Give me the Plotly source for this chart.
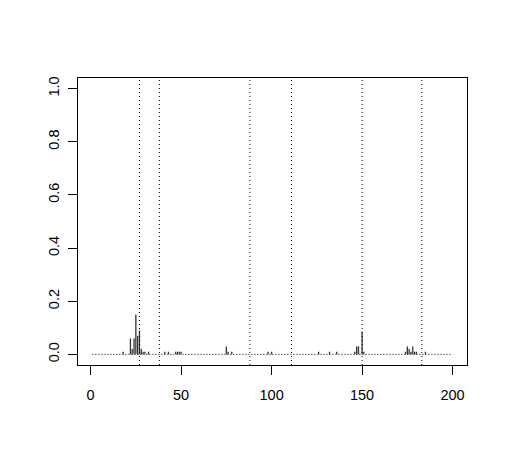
import plotly.graph_objects as go

# bar positions and heights (type "h" spikes)
spike_x = [18, 22, 23, 24, 25, 26, 27, 28, 29, 30, 32, 41, 43, 47, 48, 49, 50,
           75, 76, 78, 98, 100, 126, 132, 136, 146, 147, 148, 150, 151,
           174, 175, 176, 177, 178, 179, 180, 185]
spike_y = [0.01, 0.06, 0.02, 0.06, 0.15, 0.07, 0.09, 0.02, 0.01, 0.01, 0.01, 0.01, 0.01,
           0.01, 0.01, 0.01, 0.01,
           0.03, 0.01, 0.01, 0.01, 0.01, 0.01, 0.01, 0.01, 0.01, 0.03, 0.03, 0.085, 0.01,
           0.01, 0.03, 0.02, 0.01, 0.03, 0.01, 0.01, 0.01]

# dotted vertical markers
vlines = [27, 38, 88, 111, 150, 183]

# baseline extent
base_x = [1, 200]
base_y = [0, 0]

xticks = [0, 50, 100, 150, 200]
yticks = [0.0, 0.2, 0.4, 0.6, 0.8, 1.0]

# build segments for spikes
seg_x, seg_y = [], []
for x, y in zip(spike_x, spike_y):
    seg_x += [x, x, None]
    seg_y += [0, y, None]

fig = go.Figure()
fig.add_trace(go.Scatter(x=base_x, y=base_y, mode="lines",
                         line=dict(color="black", width=1, dash="1px,2px"),
                         hoverinfo="skip"))
fig.add_trace(go.Scatter(x=seg_x, y=seg_y, mode="lines",
                         line=dict(color="#333333", width=1.3)))

for v in vlines:
    fig.add_shape(type="line", x0=v, x1=v, y0=0, y1=1, xref="x", yref="paper",
                  line=dict(color="black", width=1, dash="1px,3px"))

# page body has an 8px margin, so the figure is sized/offset to compensate
fig.update_layout(
    width=500, height=456,
    margin=dict(l=70, r=41, t=70, b=99),
    paper_bgcolor="white", plot_bgcolor="white",
    showlegend=False,
    font=dict(family="Liberation Sans, Arial, sans-serif", size=14.5, color="black"),
)
fig.update_xaxes(range=[-6.96, 207.96], tickvals=xticks, ticktext=[str(t) for t in xticks],
                 showgrid=False, zeroline=False, showline=True, linecolor="black",
                 linewidth=1, mirror=True, ticks="outside", ticklen=9, tickcolor="black",
                 ticklabelstandoff=8, automargin=False)
fig.update_yaxes(range=[-0.04, 1.04], tickvals=yticks, ticktext=[f"{t:.1f}" for t in yticks],
                 showgrid=False, zeroline=False, showline=True, linecolor="black",
                 linewidth=1, mirror=True, ticks="outside", ticklen=9, tickcolor="black",
                 tickangle=-90, ticklabelstandoff=3, automargin=False)

fig.write_html("out.html")
